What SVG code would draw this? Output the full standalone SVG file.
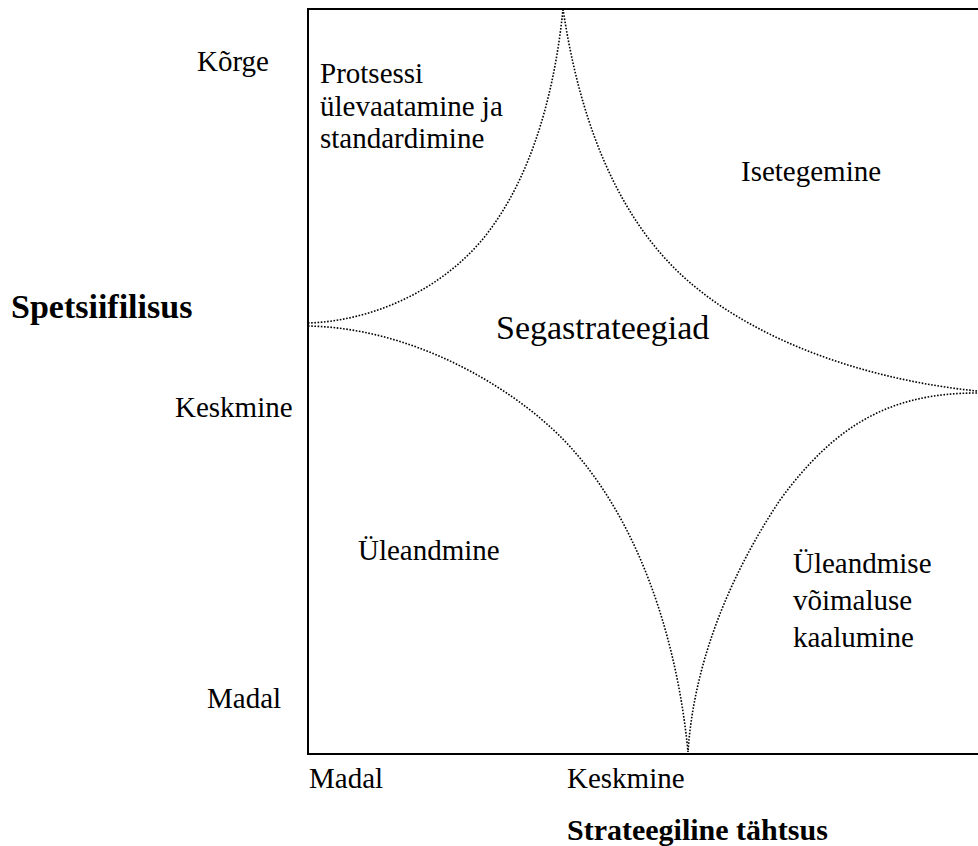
<svg xmlns="http://www.w3.org/2000/svg" width="978" height="846" viewBox="0 0 978 846">
  <style>
    text { font-family: 'Liberation Serif', 'DejaVu Serif', 'Times New Roman', serif; fill: #000; }
    .lbl { font-size: 29px; }
    .big { font-size: 34px; }
    .axis { font-size: 30px; font-weight: bold; }
    .frame { fill: none; stroke: #000; stroke-width: 2; }
    .bound { fill: none; stroke: #000; stroke-width: 1.6; stroke-dasharray: 1.6 1.6; }
  </style>
  <rect width="978" height="846" fill="#fff"/>

  <!-- chart frame: left, top and bottom edges (right edge lies outside the canvas) -->
  <g id="frame">
    <path class="frame" d="M980,9 H308 V754 H980"/>
  </g>

  <!-- dotted boundaries between the strategy regions -->
  <g id="connectors">
    <path class="bound" d="M563,9 C555,89 533,178 482,240 C440,290 373,321 308,323"/>
    <path class="bound" d="M563,9 C578,109 612,214 687,280 C762,346 877,381 977,391"/>
    <path class="bound" d="M308,326 C420,328 525,395 573,450 C643,529 678,647 688,752"/>
    <path class="bound" d="M977,393 C890,393 835,425 780,500 C730,575 694,662 688,752"/>
  </g>

  <g font-family="Liberation Serif, DejaVu Serif, serif">
    <!-- region labels -->
    <g id="node-protsessi">
      <text class="lbl" x="320" y="83">Protsessi</text>
      <text class="lbl" x="320" y="116">ülevaatamine ja</text>
      <text class="lbl" x="320" y="148">standardimine</text>
    </g>
    <g id="node-isetegemine">
      <text class="lbl" x="741" y="181">Isetegemine</text>
    </g>
    <g id="node-segastrateegiad">
      <text class="big" x="496" y="339">Segastrateegiad</text>
    </g>
    <g id="node-uleandmine">
      <text class="lbl" x="358" y="560">Üleandmine</text>
    </g>
    <g id="node-kaalumine">
      <text class="lbl" x="793" y="573">Üleandmise</text>
      <text class="lbl" x="793" y="610">võimaluse</text>
      <text class="lbl" x="793" y="647">kaalumine</text>
    </g>

    <!-- vertical axis -->
    <g id="axis-y">
      <text class="axis" x="11" y="318" style="font-size:34px">Spetsiifilisus</text>
      <text class="lbl" x="197" y="71">Kõrge</text>
      <text class="lbl" x="175" y="417">Keskmine</text>
      <text class="lbl" x="207" y="708">Madal</text>
    </g>

    <!-- horizontal axis -->
    <g id="axis-x">
      <text class="lbl" x="309" y="788">Madal</text>
      <text class="lbl" x="567" y="788">Keskmine</text>
      <text class="axis" x="567" y="840">Strateegiline tähtsus</text>
    </g>
  </g>
</svg>
